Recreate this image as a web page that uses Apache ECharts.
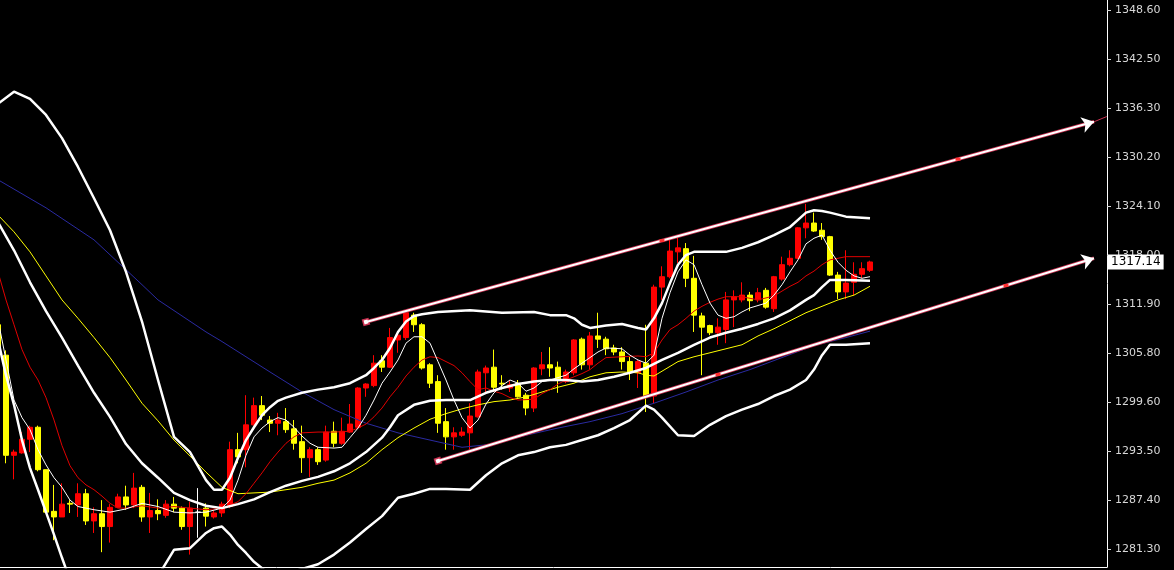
<!DOCTYPE html>
<html>
<head>
<meta charset="utf-8">
<script src="https://cdn.jsdelivr.net/npm/echarts@6/dist/echarts.min.js"></script>
<style>
html,body{margin:0;padding:0;background:#000;}
#chart{width:1174px;height:570px;}
</style>
</head>
<body>
<div id="chart"></div>
<script>
// ---------- data ----------
// bar slots: 0..109 hold candles, the rest of the 139-slot window is empty right margin
const slotFirst = 0, slotLast = 138;
const tickValues = [1348.60, 1342.50, 1336.30, 1330.20, 1324.10, 1318.00, 1311.90, 1305.80, 1299.60, 1293.50, 1287.40, 1281.30];
const lastPrice = 1317.14;

const opens = [1309.3,1305.5,1293.0,1293.3,1295.0,1296.5,1291.2,1286.0,1285.3,1287.0,
1286.8,1288.2,1284.8,1285.7,1284.1,1286.5,1287.8,1286.8,1289.0,1285.3,
1286.1,1285.5,1286.9,1286.4,1284.1,1285.9,1286.4,1285.3,1285.8,1286.6,
1293.7,1293.7,1296.8,1299.2,1297.4,1297.0,1297.2,1296.3,1294.7,1292.7,
1293.7,1292.4,1296.0,1294.5,1295.9,1296.5,1301.4,1301.7,1304.8,1304.0,
1307.4,1307.7,1310.5,1309.3,1304.3,1302.2,1297.2,1295.3,1295.5,1295.8,
1297.8,1303.3,1304.0,1302.0,1301.4,1302.0,1300.5,1298.9,1303.8,1304.3,
1304.0,1302.2,1303.3,1307.5,1304.3,1307.9,1307.5,1306.4,1305.9,1304.7,
1303.3,1304.5,1300.4,1314.0,1315.3,1318.4,1318.8,1315.1,1310.4,1309.2,
1308.3,1308.7,1312.4,1312.4,1313.0,1312.4,1313.6,1311.3,1315.0,1316.8,
1317.6,1321.4,1322.0,1321.1,1320.3,1315.5,1313.4,1314.6,1315.6,1316.1];
const closes = [1305.9,1293.0,1293.4,1295.0,1296.5,1291.2,1285.9,1285.3,1286.9,1286.9,
1288.2,1284.8,1285.7,1284.1,1286.5,1287.8,1286.8,1288.9,1285.3,1286.1,
1285.7,1286.9,1286.4,1284.1,1286.4,1285.9,1285.4,1285.8,1286.9,1293.7,
1292.8,1296.8,1299.2,1298.0,1297.0,1297.4,1296.2,1294.5,1292.7,1293.7,
1292.2,1295.9,1294.5,1296.0,1296.9,1301.4,1301.9,1304.5,1304.0,1307.7,
1308.0,1310.8,1309.3,1303.9,1302.0,1297.0,1295.3,1295.8,1295.9,1297.9,
1303.4,1303.9,1301.5,1301.9,1301.8,1300.3,1298.9,1303.9,1304.3,1303.9,
1302.4,1303.4,1307.4,1304.3,1307.9,1307.5,1306.3,1305.9,1304.7,1303.4,
1304.7,1300.4,1314.0,1315.3,1318.5,1318.9,1315.1,1310.5,1309.0,1308.3,
1309.0,1312.4,1312.8,1313.0,1312.3,1313.3,1311.5,1315.3,1316.8,1317.6,
1321.4,1322.0,1321.0,1320.3,1315.5,1313.4,1314.5,1315.6,1316.3,1317.14];
const lows = [1305.5,1292.0,1290.0,1293.2,1293.4,1291.0,1285.8,1282.4,1285.3,1285.8,
1285.3,1284.3,1283.3,1280.9,1282.1,1286.4,1286.2,1286.4,1284.7,1283.3,
1284.9,1285.2,1285.9,1283.7,1280.6,1282.7,1284.1,1285.1,1285.3,1286.4,
1292.0,1291.5,1296.7,1297.4,1295.9,1295.5,1295.8,1293.7,1290.8,1290.3,
1291.8,1292.2,1294.0,1294.3,1295.8,1296.4,1300.3,1301.5,1303.4,1303.9,
1305.8,1307.4,1308.4,1303.7,1301.4,1295.8,1293.7,1293.7,1295.3,1293.7,
1297.7,1300.9,1300.9,1301.2,1300.9,1300.2,1298.0,1298.4,1303.0,1302.8,
1300.8,1302.0,1303.0,1303.7,1303.7,1306.4,1305.5,1305.5,1303.7,1302.4,
1301.4,1298.4,1299.5,1312.4,1315.1,1317.0,1314.0,1308.4,1303.0,1308.0,
1306.8,1307.0,1309.0,1312.1,1311.0,1312.1,1311.3,1310.9,1314.8,1316.6,
1317.5,1320.1,1320.9,1319.9,1315.4,1312.5,1312.5,1313.0,1315.1,1315.9];
const highs = [1309.9,1306.1,1293.7,1295.9,1296.7,1296.7,1291.2,1289.3,1289.5,1287.4,
1289.5,1288.8,1286.5,1287.4,1286.9,1288.2,1289.2,1290.8,1289.3,1288.3,
1287.5,1287.4,1287.8,1286.6,1287.2,1288.9,1287.0,1286.1,1287.2,1294.7,
1295.8,1300.5,1300.2,1300.4,1297.9,1298.3,1298.9,1297.4,1296.7,1294.0,
1294.0,1296.7,1297.2,1297.7,1299.4,1301.5,1302.0,1305.5,1305.5,1308.9,
1308.5,1310.9,1310.8,1309.5,1304.5,1303.0,1298.9,1296.5,1296.5,1299.5,
1303.7,1304.2,1306.2,1303.0,1302.4,1302.4,1300.8,1304.0,1305.9,1306.5,
1304.7,1303.7,1307.5,1307.7,1308.4,1310.8,1307.8,1306.8,1306.5,1305.3,
1304.9,1309.3,1314.3,1316.6,1320.1,1320.3,1319.5,1317.9,1310.8,1309.3,
1310.1,1313.4,1313.6,1314.6,1313.4,1313.9,1313.9,1315.4,1317.8,1318.6,
1321.5,1324.4,1323.3,1322.0,1320.4,1315.9,1318.6,1317.1,1317.1,1317.3];

// Bollinger bands [slot, price]
const bbUpper = [[0,1336.9],[2,1338.4],[4,1337.5],[6,1335.5],[8,1332.6],[10,1329.0],[12,1325.1],[14,1321.1],[16,1315.9],[18,1309.7],[20,1302.4],[22,1295.3],[24,1293.4],[26,1289.9],[27,1288.7],[28,1288.7],[29,1290.2],[30,1292.7],[31,1294.9],[32,1296.5],[33,1298.0],[34,1299.0],[35,1299.8],[36,1300.2],[38,1300.8],[40,1301.2],[42,1301.5],[44,1302.0],[46,1303.0],[47,1303.9],[48,1304.9],[49,1306.4],[50,1308.4],[51,1309.7],[52,1310.4],[53,1310.6],[55,1310.9],[59,1311.1],[63,1310.8],[67,1310.9],[69,1310.5],[71,1310.5],[72,1310.1],[73,1309.3],[74,1308.9],[76,1309.2],[78,1309.4],[80,1308.9],[81,1308.7],[82,1310.1],[83,1312.0],[84,1314.5],[85,1316.8],[86,1318.0],[87,1318.4],[91,1318.4],[93,1318.9],[95,1319.6],[97,1320.5],[99,1321.5],[100,1322.4],[101,1323.3],[102,1323.6],[103,1323.5],[104,1323.3],[106,1322.8],[109,1322.6]];
const bbMiddle = [[0,1322.1],[2,1318.6],[4,1314.6],[6,1311.0],[8,1307.7],[10,1304.2],[12,1300.8],[14,1297.8],[16,1294.4],[18,1292.0],[20,1290.2],[22,1288.3],[24,1287.4],[26,1286.7],[28,1286.4],[30,1286.9],[32,1287.5],[34,1288.4],[36,1289.2],[38,1289.8],[40,1290.3],[42,1291.0],[44,1292.0],[46,1293.4],[48,1295.2],[49,1296.5],[50,1298.0],[52,1299.3],[54,1299.8],[56,1299.9],[59,1299.9],[61,1300.8],[63,1301.4],[65,1301.9],[67,1302.2],[69,1302.4],[71,1302.4],[73,1302.2],[75,1302.4],[77,1302.8],[79,1303.3],[81,1303.9],[83,1304.9],[85,1305.8],[87,1306.8],[89,1307.7],[91,1308.3],[93,1308.8],[95,1309.4],[97,1310.1],[99,1311.1],[101,1312.4],[102,1313.0],[103,1314.0],[104,1314.9],[106,1314.9],[109,1314.8]];
const bbLower = [[0,1307.4],[1,1303.0],[2,1299.3],[3,1294.9],[4,1291.4],[5,1288.7],[6,1285.9],[7,1283.1],[8,1280.2],[9,1277.4],[10,1274.9],[12,1273.0],[14,1272.4],[16,1272.9],[18,1274.4],[20,1277.9],[22,1281.2],[24,1281.4],[26,1283.3],[27,1283.9],[28,1284.1],[29,1283.1],[30,1281.8],[31,1280.8],[32,1279.7],[34,1278.1],[36,1278.2],[38,1278.8],[40,1279.4],[42,1280.6],[44,1282.1],[46,1283.8],[48,1285.4],[50,1287.7],[52,1288.2],[54,1288.8],[56,1288.8],[59,1288.7],[61,1290.5],[63,1292.0],[65,1293.0],[67,1293.4],[69,1294.0],[71,1294.3],[73,1294.9],[75,1295.5],[77,1296.4],[79,1297.4],[81,1299.2],[82,1298.7],[83,1297.7],[85,1295.5],[87,1295.4],[89,1296.8],[91,1297.9],[93,1298.7],[95,1299.4],[97,1300.4],[99,1301.2],[101,1302.4],[102,1303.7],[103,1305.5],[104,1306.8],[106,1306.8],[109,1307.0]];

// moving averages [slot, price]
const maFast = [[0,1309.9],[1,1304.9],[2,1299.9],[3,1297.7],[4,1296.2],[5,1293.7],[6,1291.8],[7,1290.2],[8,1289.0],[9,1287.4],[10,1286.6],[12,1286.2],[14,1285.9],[16,1286.3],[18,1287.0],[20,1286.6],[22,1285.9],[24,1285.8],[26,1285.9],[28,1286.4],[29,1287.4],[30,1289.9],[31,1293.0],[32,1295.3],[33,1296.4],[34,1297.2],[35,1297.7],[36,1297.4],[37,1296.5],[38,1295.4],[39,1294.5],[40,1294.0],[42,1293.9],[43,1294.0],[44,1295.2],[45,1296.4],[46,1298.0],[47,1299.9],[48,1302.0],[49,1303.4],[50,1304.9],[51,1307.0],[52,1307.8],[53,1307.8],[54,1307.0],[55,1304.7],[56,1302.4],[57,1299.9],[58,1297.7],[59,1296.4],[60,1297.4],[61,1299.4],[62,1300.8],[63,1301.7],[64,1302.4],[65,1302.0],[66,1301.0],[67,1301.4],[68,1302.2],[69,1302.4],[70,1302.7],[71,1303.0],[72,1303.8],[73,1304.5],[74,1305.2],[75,1305.9],[76,1306.4],[78,1306.3],[79,1305.5],[80,1304.9],[81,1304.5],[82,1305.5],[83,1310.1],[84,1313.3],[85,1315.9],[86,1317.4],[87,1316.8],[88,1314.3],[89,1312.0],[90,1310.5],[91,1310.1],[92,1310.3],[93,1310.9],[94,1311.4],[96,1312.0],[97,1313.0],[98,1314.3],[99,1315.9],[100,1317.4],[101,1319.4],[102,1320.1],[103,1320.5],[104,1318.6],[105,1317.1],[106,1316.1],[107,1315.4],[108,1315.1],[109,1315.3]];
const maRed = [[0,1315.9],[1,1312.4],[2,1309.3],[3,1306.2],[4,1304.0],[5,1302.4],[6,1300.2],[7,1297.4],[8,1294.2],[9,1291.7],[10,1290.2],[11,1289.3],[12,1288.7],[13,1287.9],[14,1287.0],[15,1286.4],[16,1286.4],[18,1286.7],[20,1286.4],[22,1286.6],[24,1286.4],[26,1286.2],[28,1286.4],[29,1286.8],[30,1287.2],[31,1288.2],[32,1289.5],[33,1290.8],[34,1292.2],[35,1293.4],[36,1294.5],[37,1295.3],[38,1295.8],[40,1295.9],[42,1295.9],[44,1296.0],[45,1296.4],[46,1296.9],[47,1297.8],[48,1298.9],[49,1300.3],[50,1301.5],[51,1302.9],[52,1304.0],[53,1304.9],[54,1305.3],[55,1305.2],[56,1304.7],[57,1304.2],[58,1303.3],[59,1302.2],[60,1301.2],[61,1301.4],[62,1301.0],[63,1300.7],[64,1300.2],[65,1299.9],[67,1300.0],[68,1300.7],[69,1301.2],[70,1301.9],[71,1302.4],[72,1302.8],[73,1303.2],[74,1303.7],[75,1304.5],[76,1305.2],[78,1305.3],[80,1305.4],[81,1305.3],[82,1305.8],[83,1307.4],[84,1308.7],[85,1309.3],[86,1310.1],[87,1311.0],[88,1311.6],[89,1312.1],[90,1312.5],[91,1312.8],[93,1312.8],[95,1312.4],[97,1312.9],[98,1313.5],[99,1314.1],[100,1314.6],[101,1315.4],[102,1316.0],[103,1316.8],[104,1317.4],[106,1317.8],[109,1317.8]];
const maYellow = [[0,1323.0],[2,1320.9],[4,1318.4],[6,1315.4],[8,1312.4],[10,1310.1],[12,1307.7],[14,1305.2],[16,1302.4],[18,1299.5],[20,1297.3],[22,1294.9],[24,1292.9],[26,1290.9],[28,1289.0],[30,1288.2],[32,1288.3],[34,1288.4],[36,1288.7],[38,1289.0],[40,1289.5],[42,1289.9],[44,1290.8],[46,1292.0],[48,1293.7],[50,1295.2],[52,1296.4],[54,1297.5],[56,1298.2],[58,1298.8],[60,1299.3],[62,1299.7],[64,1299.9],[66,1300.3],[68,1300.9],[70,1301.5],[72,1302.0],[74,1302.8],[76,1303.3],[78,1303.4],[80,1303.3],[81,1303.0],[82,1302.9],[83,1303.5],[85,1304.7],[87,1305.3],[89,1305.8],[91,1306.3],[93,1306.8],[95,1307.9],[97,1308.8],[99,1309.8],[101,1310.8],[103,1311.6],[105,1312.4],[107,1313.0],[109,1314.1]];
const maNavy = [[0,1327.4],[6,1323.9],[12,1319.9],[18,1314.3],[20,1312.4],[26,1308.4],[28,1307.2],[34,1303.4],[38,1300.9],[42,1298.7],[46,1297.0],[50,1295.8],[54,1294.9],[58,1294.0],[62,1294.4],[66,1295.5],[70,1296.4],[74,1297.2],[78,1298.2],[82,1299.5],[86,1300.9],[90,1302.4],[94,1303.7],[98,1305.2],[102,1306.7],[106,1307.7],[109,1308.5]];

// trend channel anchor points [slot, price]
const channelUpper = [[46,1309.65],[137,1334.64]];
const channelLower = [[55,1292.29],[137,1317.60]];
const channelMarks = [[83,1319.81],[120,1329.97],[90,1303.09],[126,1314.20]];
const channelTail = [[137,1334.64],[138.6,1335.3]];

// ---------- chart ----------
const yMax = 1349.85, yMin = 1279.05;
const xMin = slotFirst + 0.25, xMax = slotLast + 0.625;
const chart = echarts.init(document.getElementById('chart'), null, {renderer: 'canvas'});

function lineSeries(name, data, color, width, z) {
  return {
    name, type: 'line', data, showSymbol: false, symbol: 'none', smooth: false,
    lineStyle: {color, width}, z, silent: true, clip: true
  };
}

function channelLine(pts, color, width, symbols, sizes) {
  const ls = {color, width, type: 'solid', opacity: 1};
  return [
    {coord: pts[0], symbol: symbols[0], symbolSize: sizes[0], lineStyle: ls, itemStyle: {color}, label: {show: false}},
    {coord: pts[1], symbol: symbols[1], symbolSize: sizes[1], lineStyle: ls, itemStyle: {color}, label: {show: false}}
  ];
}

chart.setOption({
  backgroundColor: '#000000',
  animation: false,
  grid: {left: 0, right: 67, top: 0, bottom: 3, containLabel: false},
  xAxis: {
    type: 'value', min: xMin, max: xMax,
    axisLine: {show: true, onZero: false, lineStyle: {color: '#ffffff', width: 1}},
    axisTick: {show: false}, axisLabel: {show: false}, splitLine: {show: false}
  },
  yAxis: {
    type: 'value', position: 'right', min: yMin, max: yMax,
    axisLine: {show: true, lineStyle: {color: '#ffffff', width: 1}},
    axisTick: {show: true, length: 4, inside: false, customValues: tickValues, lineStyle: {color: '#d8d8d8'}},
    axisLabel: {
      show: true, customValues: tickValues, color: '#d8d8d8', fontFamily: 'DejaVu Sans', fontSize: 11, margin: 8,
      formatter: v => Number(v).toFixed(2)
    },
    splitLine: {show: false}
  },
  series: [
    {
      name: 'price', type: 'candlestick', z: 2, barWidth: 5, clip: true,
      encode: {x: 0, y: [1, 2, 3, 4]},
      data: opens.map((o, i) => [i, o, closes[i], lows[i], highs[i]]),
      itemStyle: {
        color: '#ff0000', color0: '#ffff00',
        borderColor: '#ff0000', borderColor0: '#ffff00', borderColorDoji: '#ffffff', borderWidth: 1
      },
      markPoint: {
        silent: true, animation: false,
        symbol: 'rect', symbolSize: [5, 3],
        itemStyle: {color: '#ff3030'},
        label: {show: false},
        data: channelMarks.map(c => ({coord: c}))
      },
      markLine: {
        silent: true, animation: false, symbol: ['none', 'none'],
        data: [
          {
            yAxis: lastPrice,
            lineStyle: {color: 'rgba(0,0,0,0)', width: 1, opacity: 1},
            label: {
              show: true, position: 'end', distance: 1, formatter: lastPrice.toFixed(2),
              backgroundColor: '#ffffff', color: '#000000', fontFamily: 'DejaVu Sans', fontSize: 12,
              padding: [2, 3, 1, 3], opacity: 1
            }
          }
        ]
      }
    },
    lineSeries('navy', maNavy, '#2a2aa0', 1, 3),
    lineSeries('maYellow', maYellow, '#ffff00', 1, 4),
    lineSeries('maRed', maRed, '#e00000', 1, 4),
    lineSeries('maFast', maFast, '#ffffff', 1, 5),
    lineSeries('bbUpper', bbUpper, '#ffffff', 2.5, 6),
    lineSeries('bbMiddle', bbMiddle, '#ffffff', 2.5, 6),
    lineSeries('bbLower', bbLower, '#ffffff', 2.5, 6),
    {
      name: 'channels', type: 'line', data: [], z: 7, silent: true,
      markLine: {
        silent: true, animation: false,
        data: [
          channelLine(channelTail, '#c83050', 1, ['none', 'none'], [1, 1]),
          channelLine(channelUpper, '#c83050', 3.5, ['rect', 'none'], [7, 1]),
          channelLine(channelLower, '#c83050', 3.5, ['rect', 'none'], [7, 1]),
          channelLine(channelUpper, '#ffffff', 2, ['rect', 'arrow'], [4, 12]),
          channelLine(channelLower, '#ffffff', 2, ['rect', 'arrow'], [4, 12])
        ]
      }
    }
  ]
});
</script>
</body>
</html>
